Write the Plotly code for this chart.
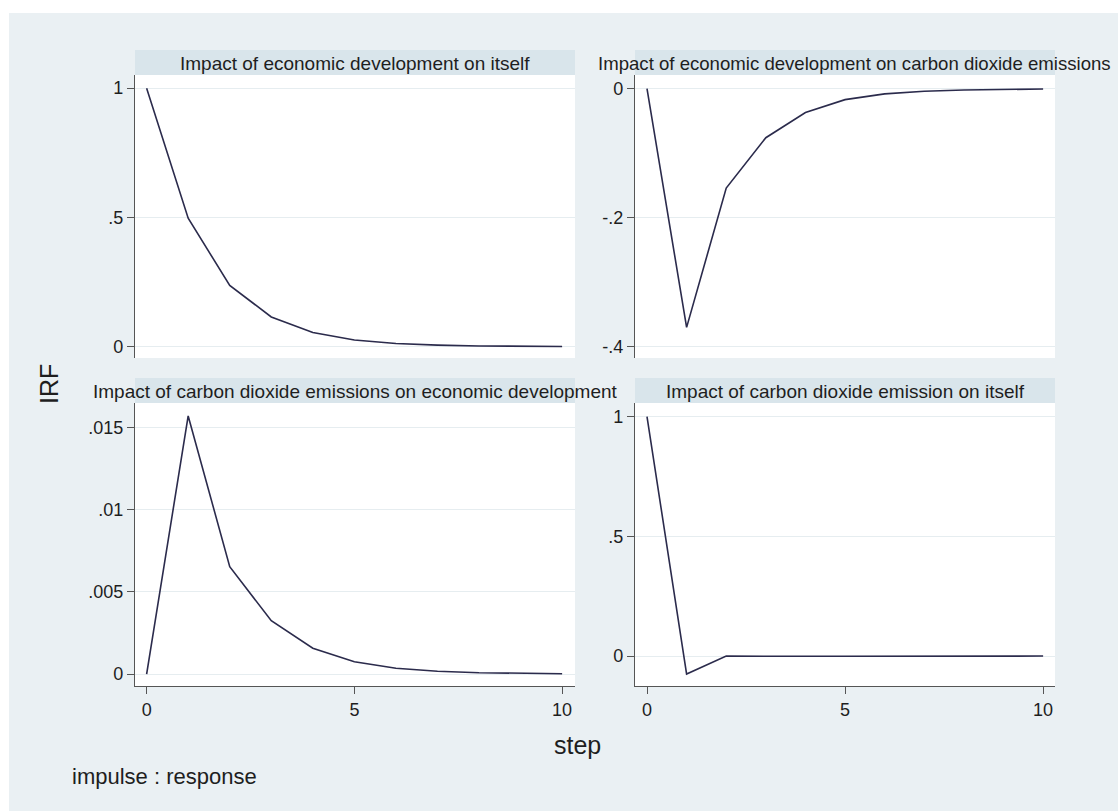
import plotly.graph_objects as go

# ---- data ----
steps = list(range(11))
irf_ed_ed = [1.0, 0.497, 0.237, 0.115, 0.055, 0.026, 0.0125, 0.006, 0.003, 0.0014, 0.0007]
irf_ed_co2 = [0.0, -0.370, -0.154, -0.076, -0.037, -0.017, -0.008, -0.004, -0.002, -0.001, -0.0005]
irf_co2_ed = [0.0, 0.01573, 0.00654, 0.00325, 0.00157, 0.00075, 0.00035, 0.00017, 0.00008, 0.00004, 0.00002]
irf_co2_co2 = [1.0, -0.075, 0.0, -0.002, -0.001, -0.0005, 0.0, 0.0, 0.0, 0.0, 0.0]

titles = [
    "Impact of economic development on itself",
    "Impact of economic development on carbon dioxide emissions",
    "Impact of carbon dioxide emissions on economic development",
    "Impact of carbon dioxide emission on itself",
]
yticks = [
    ([0, 0.5, 1], ["0", ".5", "1"]),
    ([-0.4, -0.2, 0], ["-.4", "-.2", "0"]),
    ([0, 0.005, 0.01, 0.015], ["0", ".005", ".01", ".015"]),
    ([0, 0.5, 1], ["0", ".5", "1"]),
]
xticks = ([0, 5, 10], ["0", "5", "10"])
series = [irf_ed_ed, irf_ed_co2, irf_co2_ed, irf_co2_co2]

W, H = 1118, 811
FONT = "Liberation Sans, Arial, sans-serif"
BG = "#EAF0F3"
STRIP = "#D9E5EB"
LINE = "#2B2B4C"
AXIS = "#555555"
TXT = "#1E1E1E"

# panel pixel boxes: (left, right, top_of_strip, top_of_plot, bottom)
panels = [
    (135, 575, 50, 75, 358),
    (635, 1055, 50, 75, 358),
    (135, 575, 378, 403, 686),
    (635, 1055, 378, 403, 686),
]
yranges = [[-0.0437, 1.051], [-0.4175, 0.0212], [-0.00073, 0.01652], [-0.125, 1.057]]
xranges = [[-0.28, 10.31], [-0.303, 10.30], [-0.28, 10.31], [-0.303, 10.30]]

def px(x):
    return x / W

def py(y):
    return 1 - y / H

fig = go.Figure()
layout = dict(
    width=W, height=H,
    margin=dict(l=0, r=0, t=0, b=0),
    paper_bgcolor=BG,
    plot_bgcolor="white",
    showlegend=False,
    font=dict(family=FONT, color=TXT),
)
# white border at top and left of the image
shapes = [
    dict(type="rect", xref="paper", yref="paper", x0=0, x1=1, y0=py(13), y1=1,
         fillcolor="white", line=dict(width=0), layer="below"),
    dict(type="rect", xref="paper", yref="paper", x0=0, x1=px(9), y0=0, y1=1,
         fillcolor="white", line=dict(width=0), layer="below"),
]
annotations = []

for i, (l, r, ts, tp, b) in enumerate(panels):
    k = "" if i == 0 else str(i + 1)
    fig.add_trace(go.Scatter(x=steps, y=series[i], mode="lines",
                             line=dict(color=LINE, width=1.6),
                             xaxis="x" + k, yaxis="y" + k, hoverinfo="skip"))
    bottom = i >= 2
    layout["xaxis" + k] = dict(
        domain=[px(l), px(r)], anchor="y" + k, range=xranges[i],
        showgrid=False, zeroline=False,
        showline=bottom, linecolor=AXIS, linewidth=1.2,
        ticks="outside" if bottom else "", ticklen=7, tickcolor=AXIS, tickwidth=1.2,
        tickvals=xticks[0], ticktext=xticks[1], showticklabels=bottom,
        tickfont=dict(size=18, family=FONT, color=TXT),
    )
    layout["yaxis" + k] = dict(
        domain=[py(b), py(tp)], anchor="x" + k, range=yranges[i],
        showgrid=True, gridcolor="#E6EDF0", gridwidth=1, zeroline=False,
        showline=True, linecolor=AXIS, linewidth=1.2,
        ticks="outside", ticklen=7, tickcolor=AXIS, tickwidth=1.2,
        tickvals=yticks[i][0], ticktext=yticks[i][1],
        tickfont=dict(size=18, family=FONT, color=TXT),
    )
    shapes.append(dict(type="rect", xref="paper", yref="paper",
                       x0=px(l), x1=px(r), y0=py(tp), y1=py(ts),
                       fillcolor=STRIP, line=dict(width=0), layer="below"))
    if i == 1:
        annotations.append(dict(text=titles[i], xref="paper", yref="paper",
                                x=px(596), y=py((ts + tp) / 2 + 1), xanchor="left", yanchor="middle",
                                showarrow=False, font=dict(size=18.6, family=FONT, color=TXT)))
    else:
        annotations.append(dict(text=titles[i], xref="paper", yref="paper",
                                x=px((l + r) / 2), y=py((ts + tp) / 2 + 1), xanchor="center", yanchor="middle",
                                showarrow=False, font=dict(size=19, family=FONT, color=TXT)))

annotations.append(dict(text="IRF", xref="paper", yref="paper", x=px(49), y=py(384),
                        xanchor="center", yanchor="middle", textangle=-90, showarrow=False,
                        font=dict(size=25, family=FONT, color=TXT)))
annotations.append(dict(text="step", xref="paper", yref="paper", x=px(577), y=py(745),
                        xanchor="center", yanchor="middle", showarrow=False,
                        font=dict(size=25, family=FONT, color=TXT)))
annotations.append(dict(text="impulse : response", xref="paper", yref="paper", x=px(70), y=py(776),
                        xanchor="left", yanchor="middle", showarrow=False,
                        font=dict(size=22, family=FONT, color=TXT)))

layout["shapes"] = shapes
layout["annotations"] = annotations
fig.update_layout(**layout)
fig.write_html(
    "out.html",
    config={"displayModeBar": False},
    post_script="document.body.style.margin='0';document.body.style.overflow='hidden';",
)
